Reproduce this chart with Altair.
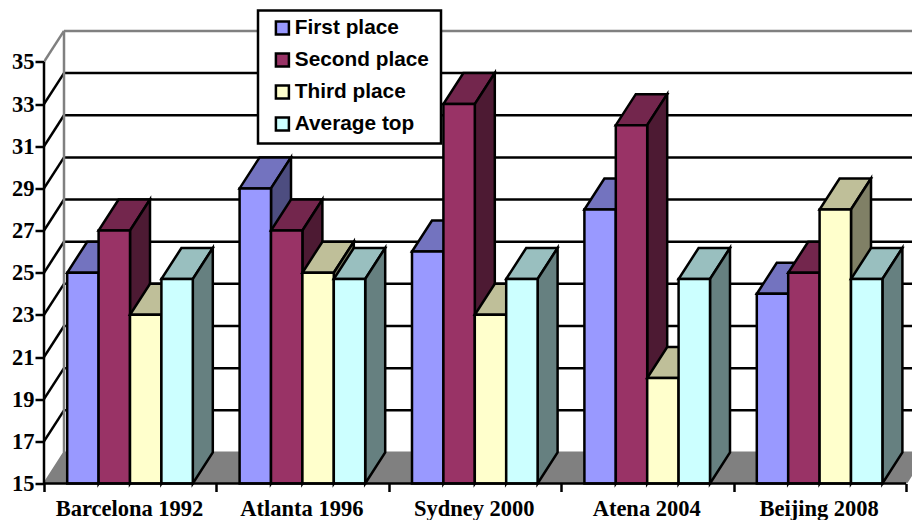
import altair as alt
import pandas as pd

# Medal-count style results per Olympic edition
games = ["Barcelona 1992", "Atlanta 1996", "Sydney 2000", "Atena 2004", "Beijing 2008"]
series = ["First place", "Second place", "Third place", "Average top"]
first_place = [25, 29, 26, 28, 24]
second_place = [27, 27, 33, 32, 25]
third_place = [23, 25, 23, 20, 28]
average_top = [24.7, 24.7, 24.7, 24.7, 24.7]
values = [first_place, second_place, third_place, average_top]

front_colors = ["#9999FF", "#993366", "#FFFFCC", "#CCFFFF"]
top_colors = ["#7373BF", "#73264D", "#BFBF99", "#99BFBF"]
side_colors = ["#4D4D80", "#4D1A33", "#808066", "#668080"]

Y_MIN, Y_MAX, Y_TOP = 15, 35, 15 + 483 / 21.08
X_END = 868 / 172.4
DX = 20 / 172.4        # oblique depth, in category widths
DY = 31 / 21.08        # oblique rise, in value units
BAR = 31.4 / 172.4     # bar width, in category widths
GAP = 23.2 / 172.4     # inset of the first bar inside its category
LINE = 2.5

# Every bar is three faces, listed back to front so that later bars overlap earlier ones
rows = []
face_id = 0
for c in range(len(games)):
    for s, name in enumerate(series):
        v = values[s][c]
        x0 = c + GAP + s * BAR
        x1 = x0 + BAR
        faces = [
            (name + " top", [(x0, v, v), (x0 + DX, v, v + DY), (x1, v, v + DY), (x1 + DX, v + DY, v + DY)]),
            (name + " side", [(x1, Y_MIN, v), (x1 + DX, Y_MIN + DY, v + DY)]),
            (name, [(x0, Y_MIN, v), (x1, Y_MIN, v)]),
        ]
        for face, pts in faces:
            face_id += 1
            for px, lo, hi in pts:
                rows.append({"px": px, "lo": lo, "hi": hi, "face": face, "id": face_id})
bars = pd.DataFrame(rows)

domain = []
colors = []
for name, f, t, d in zip(series, front_colors, top_colors, side_colors):
    domain += [name, name + " top", name + " side"]
    colors += [f, t, d]

# Shared scales and axes for every layer
axis_font = dict(labelFont="Liberation Serif", labelFontWeight="bold", labelFontSize=22.5, labelColor="black")
names = "['" + "','".join(games) + "','']"
x_scale = alt.Scale(domain=[0, X_END], nice=False, zero=False)
y_scale = alt.Scale(domain=[Y_MIN, Y_TOP], nice=False, zero=False)
x_axis = alt.Axis(
    values=[0, 1, 2, 3, 4, 5], domain=False, grid=False, title=None,
    tickColor="black", tickWidth=LINE, tickSize=8, labelOffset=85, labelPadding=6,
    labelExpr=names + "[datum.value]", labelBound=False, labelFlush=False, labelOverlap=False,
    **axis_font,
)
y_axis = alt.Axis(
    values=list(range(Y_MIN, Y_MAX + 1, 2)), domain=False, grid=False, title=None,
    tickColor="black", tickWidth=LINE, tickSize=9, labelPadding=1, format="d", labelBaseline="middle",
    **axis_font,
)

# Floor of the plot box
floor = pd.DataFrame([
    {"px": 0, "lo": Y_MIN, "hi": Y_MIN},
    {"px": DX, "lo": Y_MIN, "hi": Y_MIN + DY},
    {"px": 5, "lo": Y_MIN, "hi": Y_MIN + DY},
    {"px": 5 + DX, "lo": Y_MIN + DY, "hi": Y_MIN + DY},
])
floor_layer = alt.Chart(floor).mark_area(color="#808080", stroke="#808080", strokeWidth=2, clip=True).encode(
    x=alt.X("px:Q", scale=x_scale, axis=x_axis),
    y=alt.Y("lo:Q", scale=y_scale, axis=y_axis),
    y2="hi:Q",
)

# Wall gridlines and the diagonal lines on the side wall
ticks = list(range(Y_MIN + 2, Y_MAX + 1, 2))
wall = []
for t in ticks:
    col = "#808080" if t == Y_MAX else "#000000"
    wall.append({"a": DX, "b": X_END, "p": t + DY, "q": t + DY, "col": col})
    wall.append({"a": 0, "b": DX, "p": t, "q": t + DY, "col": col})
wall.append({"a": DX, "b": DX, "p": Y_MIN + DY, "q": Y_MAX + DY, "col": "#808080"})
wall_layer = alt.Chart(pd.DataFrame(wall)).mark_rule(strokeWidth=LINE, clip=True).encode(
    x=alt.X("a:Q", scale=x_scale, axis=x_axis),
    x2="b:Q",
    y=alt.Y("p:Q", scale=y_scale, axis=y_axis),
    y2="q:Q",
    color=alt.Color("col:N", scale=None, legend=None),
)

# Box behind the legend entries
legend_box = alt.Chart(pd.DataFrame({"k": [0]})).mark_rect(fill="white", stroke="black", strokeWidth=LINE).encode(
    x=alt.value(214), x2=alt.value(397), y=alt.value(10), y2=alt.value(143)
)

bar_layer = alt.Chart(bars).mark_area(stroke="black", strokeWidth=LINE, strokeJoin="miter", opacity=1).encode(
    x=alt.X("px:Q", scale=x_scale, axis=x_axis),
    y=alt.Y("lo:Q", scale=y_scale, axis=y_axis),
    y2="hi:Q",
    detail="id:O",
    fill=alt.Fill(
        "face:N",
        scale=alt.Scale(domain=domain, range=colors),
        legend=alt.Legend(
            title=None,
            values=series,
            orient="none",
            legendX=228,
            legendY=17,
            symbolType="square",
            symbolSize=169,
            symbolStrokeColor="black",
            symbolStrokeWidth=2.5,
            symbolOpacity=1,
            labelFont="Liberation Sans",
            labelFontWeight="bold",
            labelFontSize=20.8,
            labelColor="black",
            labelLimit=200,
            rowPadding=8,
            labelOffset=2,
            padding=0,
        ),
    ),
)

# Front edges of the value and category axes
frame = alt.Chart(pd.DataFrame([
    {"a": 0, "b": 0, "p": Y_MIN, "q": Y_MAX},
    {"a": 0, "b": 5, "p": Y_MIN, "q": Y_MIN},
])).mark_rule(color="black", strokeWidth=LINE).encode(
    x=alt.X("a:Q", scale=x_scale, axis=x_axis),
    x2="b:Q",
    y=alt.Y("p:Q", scale=y_scale, axis=y_axis),
    y2="q:Q",
)

chart = alt.layer(floor_layer, wall_layer, legend_box, bar_layer, frame).properties(
    width=868,
    height=483,
    padding={"left": 44, "top": 0.5, "right": 0, "bottom": 36.5},
    autosize=alt.AutoSizeParams(type="none"),
    background="white",
).configure_view(stroke=None)

chart.save("out.html", embed_options={"renderer": "svg", "actions": False})
